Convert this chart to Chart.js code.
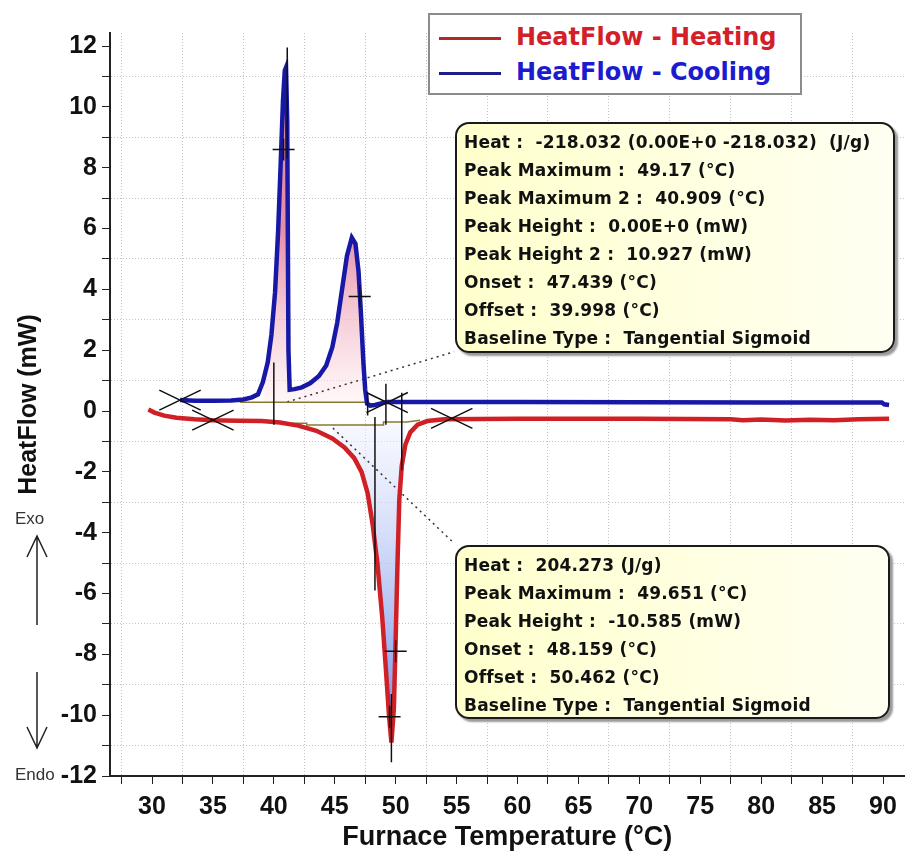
<!DOCTYPE html>
<html>
<head>
<meta charset="utf-8">
<script src="https://cdn.jsdelivr.net/npm/chart.js@4.4.1/dist/chart.umd.min.js"></script>
<style>
  html, body { margin: 0; padding: 0; background: #fff; }
  #wrap { position: relative; width: 917px; height: 857px; overflow: hidden; }
  #graph { position: absolute; left: 0; top: 0; }
  .legend {
    position: absolute; left: 428px; top: 13px; width: 370px; height: 78px;
    border: 2px solid #8c8c8c; background: #fff;
    font: bold 24px "DejaVu Sans", sans-serif;
  }
  .legend div { position: absolute; left: 9px; height: 30px; line-height: 30px; white-space: pre; }
  .legend span { display: inline-block; width: 62px; height: 0; vertical-align: middle; margin-right: 15px; border-top: 3px solid; }
  .note {
    position: absolute; left: 455px; box-sizing: border-box;
    border: 2px solid #1a1a1a; border-radius: 14px;
    background: linear-gradient(to right, #ffffcc, #fffff2);
    box-shadow: 3px 3px 2px #9a9a9a;
    padding: 4px 0 0 7px;
    font: bold 17px "DejaVu Sans", sans-serif; color: #111;
    letter-spacing: 0.2px;
    line-height: 28px; white-space: pre;
  }
  .side { position: absolute; font: 17px "Liberation Sans", Arial, sans-serif; color: #333; }
</style>
</head>
<body>
<div id="wrap">
  <canvas id="graph" width="917" height="857"></canvas>
  <div class="legend">
    <div style="top:7px;color:#d21f2a"><span style="border-color:#b02a2a"></span>HeatFlow - Heating</div>
    <div style="top:42px;color:#1b1bd0"><span style="border-color:#1c1c8a"></span>HeatFlow - Cooling</div>
  </div>
  <div class="note" style="top:122px;width:440px;height:231px">Heat :  -218.032 (0.00E+0 -218.032)  (J/g)
Peak Maximum :  49.17 (°C)
Peak Maximum 2 :  40.909 (°C)
Peak Height :  0.00E+0 (mW)
Peak Height 2 :  10.927 (mW)
Onset :  47.439 (°C)
Offset :  39.998 (°C)
Baseline Type :  Tangential Sigmoid</div>
  <div class="note" style="top:545px;width:435px;height:174px">Heat :  204.273 (J/g)
Peak Maximum :  49.651 (°C)
Peak Height :  -10.585 (mW)
Onset :  48.159 (°C)
Offset :  50.462 (°C)
Baseline Type :  Tangential Sigmoid</div>
  <div class="side" style="left:15px;top:509px">Exo</div>
  <div class="side" style="left:15px;top:765px">Endo</div>
  <svg style="position:absolute;left:0;top:0" width="80" height="857">
    <g stroke="#222" stroke-width="1.5" fill="none">
      <path d="M37 625 L37 536 M27 557 L37 536 L47 557"/>
      <path d="M37 672 L37 748 M27 727 L37 748 L47 727"/>
    </g>
  </svg>
</div>
<script>
// cooling run (blue)
const coolingTemp = [32.3, 33.5, 35.0, 36.5, 37.5, 38.2, 38.7, 39.1, 39.5, 39.8, 40.1, 40.35, 40.55, 40.75, 40.9, 41.0, 41.1, 41.2, 41.3, 41.7, 42.3, 43.0, 43.7, 44.3, 44.8, 45.2, 45.6, 46.0, 46.4, 46.7, 46.95, 47.15, 47.35, 47.5, 47.65, 47.9, 48.3, 48.8, 49.3, 50.0, 60.0, 70.0, 80.0, 89.9, 90.1, 90.5];
const coolingFlow = [0.36, 0.34, 0.34, 0.35, 0.38, 0.45, 0.55, 0.95, 1.6, 2.5, 3.9, 5.9, 8.0, 10.2, 11.2, 11.3, 9.5, 2.0, 0.7, 0.72, 0.78, 0.92, 1.15, 1.5, 2.1, 2.9, 4.0, 5.1, 5.7, 5.5, 4.6, 3.2, 1.6, 0.7, 0.25, 0.18, 0.2, 0.25, 0.3, 0.3, 0.3, 0.29, 0.28, 0.28, 0.22, 0.2];

// heating run (red)
const heatingTemp = [29.7, 30.2, 31.0, 32.0, 33.5, 35.0, 37.0, 39.0, 40.5, 42.0, 43.5, 44.8, 45.8, 46.6, 47.2, 47.7, 48.1, 48.5, 48.9, 49.2, 49.45, 49.65, 49.85, 50.0, 50.15, 50.3, 50.5, 50.8, 51.2, 51.8, 52.6, 54.0, 60.0, 70.0, 77.5, 78.5, 80.0, 82.0, 84.0, 86.0, 88.0, 90.5];
const heatingFlow = [0.05, -0.05, -0.15, -0.22, -0.27, -0.3, -0.32, -0.33, -0.38, -0.48, -0.65, -0.9, -1.2, -1.55, -2.0, -2.7, -3.7, -5.0, -6.8, -8.5, -10.0, -10.9, -9.8, -7.5, -5.0, -2.9, -1.8, -1.1, -0.7, -0.45, -0.33, -0.27, -0.25, -0.25, -0.27, -0.3, -0.28, -0.31, -0.29, -0.3, -0.27, -0.25];

// integration baselines
const coolBaseTemp = [37.2, 47.6];
const coolBaseFlow = [0.29, 0.29];
const heatBaseTemp = [40.0, 42.7, 42.7, 49.0, 49.0, 50.9, 52.0];
const heatBaseFlow = [-0.40, -0.40, -0.46, -0.46, -0.36, -0.36, -0.30];

// analysis markers
const crossTemp = [32.3, 35.0, 49.3, 54.6];
const crossFlow = [0.36, -0.30, 0.28, -0.24];
const plusTemp = [40.8, 47.05, 50.0, 49.5];
const plusFlow = [8.6, 3.77, -7.9, -10.05];
const markTemp = [40.0, 41.1, 48.3, 49.2, 49.65, 50.5, 47.7];
const markTop = [1.6, 11.95, -0.2, 0.9, -9.3, 0.6, 0.6];
const markBottom = [-0.45, 8.3, -5.9, -0.45, -11.55, -1.95, -0.15];
const leaderTemp = [41.1, 54.8, 44.85, 54.8];
const leaderFlow = [0.3, 1.95, -0.56, -4.35];

// axes
const xTicks = [27.5, 30, 32.5, 35, 37.5, 40, 42.5, 45, 47.5, 50, 52.5, 55, 57.5, 60, 62.5, 65, 67.5, 70, 72.5, 75, 77.5, 80, 82.5, 85, 87.5, 90, 92.5];
const yTicks = [-12, -11, -10, -9, -8, -7, -6, -5, -4, -3, -2, -1, 0, 1, 2, 3, 4, 5, 6, 7, 8, 9, 10, 11, 12];

const zip = (t, f) => t.map((x, i) => ({ x: x, y: f[i] }));
const cooling = zip(coolingTemp, coolingFlow);
const heating = zip(heatingTemp, heatingFlow);
const coolPeak = cooling.filter(p => p.x >= 39.1 && p.x <= 47.65);
const heatPeak = heating.filter(p => p.x >= 44.0 && p.x <= 50.8);

const crossLines = [];
crossTemp.forEach((t, i) => {
  const f = crossFlow[i];
  crossLines.push({ x: t - 1.7, y: f + 0.33 }, { x: t + 1.7, y: f - 0.33 }, { x: t, y: null });
  crossLines.push({ x: t - 1.7, y: f - 0.33 }, { x: t + 1.7, y: f + 0.33 }, { x: t, y: null });
});
const markLines = [];
markTemp.forEach((t, i) => {
  markLines.push({ x: t, y: markTop[i] }, { x: t, y: markBottom[i] }, { x: t, y: null });
});
const leaderLines = [];
for (let i = 0; i < leaderTemp.length; i += 2) {
  leaderLines.push({ x: leaderTemp[i], y: leaderFlow[i] }, { x: leaderTemp[i + 1], y: leaderFlow[i + 1] }, { x: leaderTemp[i], y: null });
}

function vGrad(chart, yTop, yBot, cTop, cBot) {
  const { ctx, chartArea, scales } = chart;
  if (!chartArea) return cBot;
  const g = ctx.createLinearGradient(0, scales.y.getPixelForValue(yTop), 0, scales.y.getPixelForValue(yBot));
  g.addColorStop(0, cTop);
  g.addColorStop(1, cBot);
  return g;
}

const tickFont = { family: "'Liberation Sans', Arial", size: 25, weight: 'bold' };

const ctx = document.getElementById("graph").getContext("2d");

const dscChart = new Chart(ctx, {
  type: "line",
  data: {
    datasets: [
      {
        label: "cool fill",
        data: coolPeak,
        borderWidth: 0,
        pointRadius: 0,
        fill: { value: coolBaseFlow[0] },
        backgroundColor: (c) => vGrad(c.chart, 6, 0.3, "rgba(226,120,150,0.85)", "rgba(255,238,240,0.5)"),
        order: 10,
      },
      {
        label: "heat fill",
        data: heatPeak,
        borderWidth: 0,
        pointRadius: 0,
        fill: { value: heatBaseFlow[0] },
        backgroundColor: (c) => vGrad(c.chart, -0.4, -10, "rgba(240,243,255,0.5)", "rgba(110,140,230,0.9)"),
        order: 10,
      },
      {
        label: "leaders",
        data: leaderLines,
        borderColor: "#333",
        borderWidth: 1.5,
        borderDash: [2, 4],
        pointRadius: 0,
        order: 8,
      },
      {
        label: "cool baseline",
        data: zip(coolBaseTemp, coolBaseFlow),
        borderColor: "#8a7a30",
        borderWidth: 1.5,
        pointRadius: 0,
        order: 6,
      },
      {
        label: "heat baseline",
        data: zip(heatBaseTemp, heatBaseFlow),
        borderColor: "#8a7a30",
        borderWidth: 1.5,
        pointRadius: 0,
        order: 6,
      },
      {
        label: "HeatFlow - Heating",
        data: heating,
        borderColor: "#d01f25",
        borderWidth: 4.5,
        pointRadius: 0,
        order: 3,
      },
      {
        label: "HeatFlow - Cooling",
        data: cooling,
        borderColor: "#1818a6",
        borderWidth: 4.5,
        pointRadius: 0,
        order: 2,
      },
      {
        label: "crosses",
        data: crossLines,
        borderColor: "#111",
        borderWidth: 1.5,
        pointRadius: 0,
        order: 1,
      },
      {
        label: "marks",
        data: markLines,
        borderColor: "#111",
        borderWidth: 1.5,
        pointRadius: 0,
        order: 1,
      },
      {
        label: "plus",
        data: zip(plusTemp, plusFlow),
        showLine: false,
        pointStyle: "cross",
        pointRadius: 11,
        pointBorderWidth: 1.5,
        pointBorderColor: "#111",
        order: 0,
      },
    ],
  },
  options: {
    responsive: false,
    animation: false,
    spanGaps: false,
    layout: { padding: { top: 33, right: 1, left: 0, bottom: 0 } },
    plugins: {
      legend: { display: false },
      tooltip: { enabled: false },
    },
    scales: {
      x: {
        type: "linear",
        min: 26.55,
        max: 92.7,
        afterFit: (s) => { s.height = 81; },
        afterBuildTicks: (s) => { s.ticks = xTicks.filter((v) => v >= s.min && v <= s.max).map((v) => ({ value: v })); },
        ticks: {
          callback: (v) => (v % 5 === 0 ? v : ""),
          color: "#111",
          font: tickFont,
          padding: 8,
          maxRotation: 0,
          autoSkip: false,
        },
        grid: {
          color: (c) => (c.tick && c.tick.value % 5 !== 0 ? "#c4c4c4" : "rgba(0,0,0,0)"),
          tickColor: "#222",
          tickLength: 8,
          lineWidth: 1,
        },
        border: { display: true, color: "#222", width: 2, dash: [1, 2] },
        title: {
          display: true,
          text: "Furnace Temperature (°C)",
          color: "#111",
          font: { family: "'Liberation Sans', Arial", size: 27, weight: "bold" },
          padding: { top: 0, bottom: 3 },
        },
      },
      y: {
        type: "linear",
        min: -12,
        max: 12.43,
        afterFit: (s) => { s.width = 110; s.paddingTop = 0; s.paddingBottom = 0; },
        afterBuildTicks: (s) => { s.ticks = yTicks.map((v) => ({ value: v })); },
        ticks: {
          callback: (v) => (v % 2 === 0 ? v : ""),
          color: "#111",
          font: tickFont,
          padding: 5,
          autoSkip: false,
        },
        grid: {
          color: (c) => (c.tick && c.tick.value % 2 !== 0 ? "#c4c4c4" : "rgba(0,0,0,0)"),
          tickColor: "#222",
          tickLength: 8,
          lineWidth: 1,
        },
        border: { display: true, color: "#222", width: 2, dash: [1, 2] },
        title: {
          display: true,
          text: "HeatFlow (mW)",
          color: "#111",
          font: { family: "'Liberation Sans', Arial", size: 25, weight: "bold" },
          padding: { top: 14, bottom: 0 },
        },
      },
    },
  },
});

// fit the temperature range to the plot width the layout gave us,
// so that 30 °C sits at x=152 and 90 °C at x=883 as in the original
const sx = dscChart.scales.x;
const pxPerDeg = (883 - 152) / 60;
dscChart.options.scales.x.min = 30 - (152 - sx.left) / pxPerDeg;
dscChart.options.scales.x.max = 30 + (sx.right - 152) / pxPerDeg;
dscChart.update();
</script>
</body>
</html>
